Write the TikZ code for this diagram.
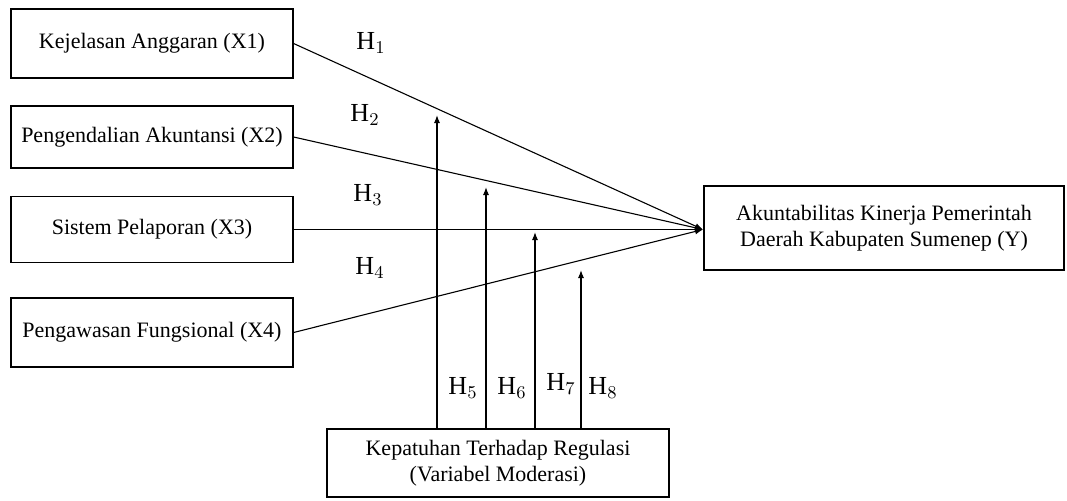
\documentclass[tikz,border=0pt]{standalone}
\usepackage{fontspec}
\setmainfont{Liberation Serif}
\usetikzlibrary{arrows.meta}

\tikzset{
  varbox/.style={draw, line width=0.6pt, align=center, inner sep=0pt, font=\fontsize{11}{13}\selectfont},
  hyp/.style={font=\fontsize{13}{15}\selectfont},
  link/.style={line width=0.55pt, -{Latex[length=4pt,width=3pt]}}
}

\begin{document}
\begin{tikzpicture}[x=0.5pt,y=-0.5pt]
\useasboundingbox (0,0) rectangle (1067,500);

% variabel independen
\node[varbox, minimum width=141pt, minimum height=34.5pt] (x1) at (152,43.5) {Kejelasan Anggaran (X1)};
\node[varbox, minimum width=141pt, minimum height=31pt] (x2) at (152,137) {Pengendalian Akuntansi (X2)};
\node[varbox, minimum width=141pt, minimum height=33pt] (x3) at (152,229.5) {Sistem Pelaporan (X3)};
\node[varbox, minimum width=141pt, minimum height=34.5pt] (x4) at (152,332.5) {Pengawasan Fungsional (X4)};

% variabel dependen dan moderasi
\node[varbox, minimum width=180pt, minimum height=42pt] (y) at (884,228) {Akuntabilitas Kinerja Pemerintah\\Daerah Kabupaten Sumenep (Y)};
\node[varbox, minimum width=171pt, minimum height=34pt] (mod) at (498,463) {Kepatuhan Terhadap Regulasi\\(Variabel Moderasi)};

\coordinate (yin) at (703,229.5);
\draw[link] (x1.east) -- (yin);
\draw[link] (x2.east) -- (yin);
\draw[link] (x3.east) -- (yin);
\draw[link] (x4.east) -- (yin);

% efek moderasi
\coordinate (t5) at (437,115);
\coordinate (t6) at (486,187);
\coordinate (t7) at (535,232);
\coordinate (t8) at (581,270);
\draw[link] (t5 |- mod.north) -- (t5);
\draw[link] (t6 |- mod.north) -- (t6);
\draw[link] (t7 |- mod.north) -- (t7);
\draw[link] (t8 |- mod.north) -- (t8);

\node[hyp] (h1) at (371,43) {$\mathrm{H}_1$};
\node[hyp] (h2) at (365,115) {$\mathrm{H}_2$};
\node[hyp] (h3) at (368,195) {$\mathrm{H}_3$};
\node[hyp] (h4) at (370,268) {$\mathrm{H}_4$};
\node[hyp] (h5) at (463,388) {$\mathrm{H}_5$};
\node[hyp] (h6) at (512,388) {$\mathrm{H}_6$};
\node[hyp] (h7) at (561,384) {$\mathrm{H}_7$};
\node[hyp] (h8) at (603,388) {$\mathrm{H}_8$};
\end{tikzpicture}
\end{document}
